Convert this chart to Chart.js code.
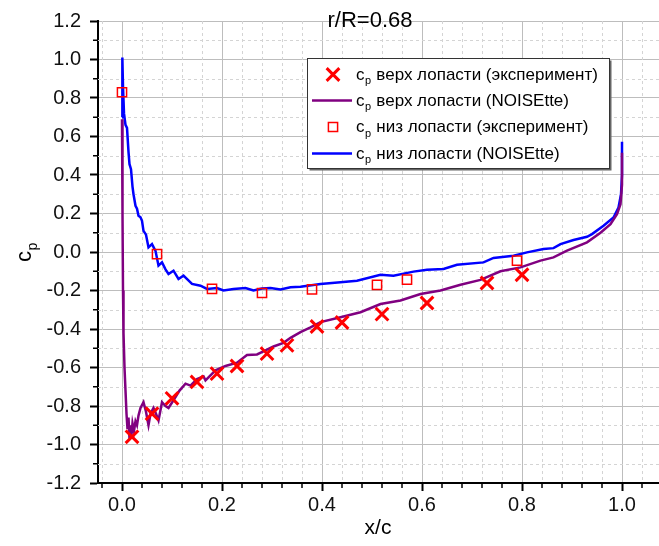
<!DOCTYPE html>
<html>
<head>
<meta charset="utf-8">
<script src="https://cdn.jsdelivr.net/npm/chart.js@4/dist/chart.umd.min.js"></script>
<style>
  html, body { margin: 0; padding: 0; background: #fff; }
  #wrap { width: 659px; height: 546px; }
</style>
</head>
<body>
<div id="wrap"><canvas id="chart" width="659" height="546"></canvas></div>
<script>
// ---- data ----
const chartTitle = 'r/R=0.68';
const xAxisTitle = 'x/c';
const seriesNames = [
  'верх лопасти (эксперимент)',
  'верх лопасти (NOISEtte)',
  'низ лопасти (эксперимент)',
  'низ лопасти (NOISEtte)'
];

const xTicks = [0.0, 0.2, 0.4, 0.6, 0.8, 1.0];
const yTicks = [-1.2, -1.0, -0.8, -0.6, -0.4, -0.2, 0.0, 0.2, 0.4, 0.6, 0.8, 1.0, 1.2];
const X_MIN = -0.048, X_MAX = 1.074;

// experiment, upper side (crosses)
const expUpperX = [0.02, 0.06, 0.10, 0.15, 0.19, 0.23, 0.29, 0.33, 0.39, 0.44, 0.52, 0.61, 0.73, 0.80];
const expUpperY = [-0.96, -0.84, -0.76, -0.675, -0.632, -0.592, -0.528, -0.485, -0.387, -0.366, -0.323, -0.265, -0.161, -0.118];

// experiment, lower side (squares)
const expLowerX = [0.0, 0.07, 0.18, 0.28, 0.38, 0.51, 0.57, 0.79];
const expLowerY = [0.83, -0.011, -0.192, -0.213, -0.194, -0.171, -0.144, -0.045];

// NOISEtte, upper side
const cfdUpperX = [0.000, 0.001, 0.002, 0.003, 0.005, 0.007, 0.009, 0.011, 0.013, 0.015, 0.017, 0.019, 0.021, 0.024,
  0.027, 0.030, 0.033, 0.037, 0.043, 0.048, 0.053, 0.057, 0.063, 0.068, 0.073, 0.080, 0.087, 0.093, 0.103, 0.115,
  0.127, 0.137, 0.150, 0.163, 0.167, 0.187, 0.207, 0.230, 0.250, 0.270, 0.287, 0.303, 0.323, 0.337, 0.357, 0.377,
  0.397, 0.437, 0.477, 0.517, 0.557, 0.597, 0.637, 0.677, 0.717, 0.757, 0.797, 0.837, 0.863, 0.890, 0.930, 0.957,
  0.977, 0.990, 0.997, 1.000, 1.000];
const cfdUpperY = [0.69, 0.20, -0.20, -0.42, -0.60, -0.72, -0.84, -0.92, -0.86, -0.97, -0.90, -0.95, -0.89, -0.93,
  -0.88, -0.90, -0.85, -0.81, -0.78, -0.83, -0.90, -0.84, -0.81, -0.84, -0.875, -0.78, -0.80, -0.81, -0.77, -0.72,
  -0.684, -0.694, -0.66, -0.646, -0.667, -0.615, -0.592, -0.575, -0.535, -0.532, -0.511, -0.491, -0.472, -0.446, -0.416, -0.392,
  -0.364, -0.339, -0.313, -0.270, -0.252, -0.218, -0.200, -0.170, -0.145, -0.100, -0.080, -0.045, -0.028, 0.007, 0.050, 0.100,
  0.145, 0.197, 0.248, 0.35, 0.516];

// NOISEtte, lower side
const cfdLowerX = [0.000, 0.0007, 0.002, 0.004, 0.007, 0.010, 0.013, 0.015, 0.018, 0.021, 0.023, 0.027, 0.030, 0.033,
  0.037, 0.040, 0.043, 0.048, 0.053, 0.060, 0.067, 0.073, 0.080, 0.087, 0.093, 0.103, 0.113, 0.123, 0.140, 0.157,
  0.170, 0.190, 0.203, 0.223, 0.247, 0.263, 0.280, 0.297, 0.317, 0.337, 0.357, 0.397, 0.437, 0.470, 0.517, 0.543,
  0.583, 0.610, 0.643, 0.670, 0.723, 0.743, 0.783, 0.810, 0.843, 0.863, 0.877, 0.903, 0.930, 0.940, 0.963, 0.983,
  0.993, 0.998, 1.000, 1.000];
const cfdLowerY = [0.70, 1.01, 0.86, 0.72, 0.66, 0.645, 0.52, 0.456, 0.43, 0.34, 0.30, 0.24, 0.225, 0.188,
  0.18, 0.162, 0.11, 0.09, 0.024, 0.041, 0.006, -0.071, -0.054, -0.09, -0.114, -0.097, -0.140, -0.123, -0.166, -0.175,
  -0.192, -0.187, -0.200, -0.192, -0.187, -0.200, -0.19, -0.187, -0.195, -0.183, -0.180, -0.166, -0.157, -0.149, -0.118, -0.123,
  -0.102, -0.092, -0.088, -0.066, -0.054, -0.031, -0.019, -0.002, 0.015, 0.020, 0.041, 0.062, 0.079, 0.093, 0.136, 0.179,
  0.231, 0.30, 0.40, 0.573];

// ---- chart ----
const RED = '#ff0000', PURPLE = '#800080', BLUE = '#0000ff';
const FONT = '"Liberation Sans", Arial, sans-serif';
const pts = (xs, ys) => xs.map((x, i) => ({ x, y: ys[i] }));

const xMinor = [];
for (let k = -1; k <= 26; k++) if (k % 5 !== 0) xMinor.push(k * 0.04);
const yMinor = [];
for (let k = -11; k <= 11; k += 2) yMinor.push(k * 0.1);

function labelWithSub(ctx, x, y, text, size) {
  ctx.font = size + 'px ' + FONT;
  ctx.fillText('c', x, y);
  const cw = ctx.measureText('c').width;
  ctx.font = Math.round(size * 0.62) + 'px ' + FONT;
  ctx.fillText('p', x + cw + 0.5, y + size * 0.28);
  const pw = ctx.measureText('p').width;
  if (text) {
    ctx.font = size + 'px ' + FONT;
    ctx.fillText(' ' + text, x + cw + pw + 1, y);
  }
}

const decor = {
  id: 'decor',
  beforeDatasetsDraw(chart) {
    const { ctx, chartArea: a, scales: { x, y } } = chart;
    ctx.save();
    ctx.strokeStyle = '#d4d4d4';
    ctx.lineWidth = 1;
    ctx.setLineDash([3, 3]);
    xMinor.forEach(v => {
      const p = Math.round(x.getPixelForValue(v)) + 0.5;
      ctx.beginPath(); ctx.moveTo(p, a.top); ctx.lineTo(p, a.bottom); ctx.stroke();
    });
    yMinor.forEach(v => {
      const p = Math.round(y.getPixelForValue(v)) + 0.5;
      ctx.beginPath(); ctx.moveTo(a.left, p); ctx.lineTo(a.right, p); ctx.stroke();
    });
    ctx.setLineDash([]);
    ctx.strokeStyle = '#000';
    ctx.lineWidth = 1.5;
    xMinor.forEach(v => {
      const p = x.getPixelForValue(v);
      ctx.beginPath(); ctx.moveTo(p, a.bottom); ctx.lineTo(p, a.bottom + 5); ctx.stroke();
    });
    yMinor.forEach(v => {
      const p = y.getPixelForValue(v);
      ctx.beginPath(); ctx.moveTo(a.left - 5, p); ctx.lineTo(a.left, p); ctx.stroke();
    });
    ctx.restore();
  },
  afterDraw(chart) {
    const { ctx } = chart;
    ctx.save();
    ctx.fillStyle = '#000';
    ctx.textBaseline = 'alphabetic';
    // title
    ctx.font = '22px ' + FONT;
    ctx.textAlign = 'center';
    ctx.fillText(chartTitle, 370, 27);
    // x axis title
    ctx.font = '21px ' + FONT;
    ctx.fillText(xAxisTitle, 378, 534);
    // y axis title c_p
    ctx.save();
    ctx.translate(31, 262);
    ctx.rotate(-Math.PI / 2);
    ctx.textAlign = 'left';
    labelWithSub(ctx, 0, 0, '', 22);
    ctx.restore();

    // legend box
    const L = 307.5, T = 58.5, W = 302, H = 110;
    ctx.fillStyle = '#666';
    ctx.fillRect(L + 2, T + 2, W, H);
    ctx.fillStyle = '#fff';
    ctx.fillRect(L, T, W, H);
    ctx.strokeStyle = '#333';
    ctx.lineWidth = 1;
    ctx.strokeRect(L, T, W, H);

    const rows = [74.5, 100.5, 127, 153.5];
    const mx = 333;
    chart.data.datasets.forEach((ds, i) => {
      const ry = rows[i];
      ctx.save();
      if (ds.showLine) {
        ctx.strokeStyle = ds.borderColor;
        ctx.lineWidth = ds.borderWidth;
        ctx.beginPath(); ctx.moveTo(312, ry); ctx.lineTo(352, ry); ctx.stroke();
      } else {
        ctx.strokeStyle = ds.pointBorderColor;
        ctx.fillStyle = ds.pointBackgroundColor;
        ctx.lineWidth = ds.pointBorderWidth;
        Chart.helpers.drawPoint(ctx, {
          pointStyle: ds.pointStyle, radius: ds.pointRadius, borderWidth: ds.pointBorderWidth
        }, mx, ry);
      }
      ctx.restore();
      ctx.fillStyle = '#000';
      ctx.textAlign = 'left';
      labelWithSub(ctx, 356, ry + 5, ds.label, 17);
    });
    ctx.restore();
  }
};

new Chart(document.getElementById('chart'), {
  type: 'scatter',
  data: {
    datasets: [
      {
        label: seriesNames[0], data: pts(expUpperX, expUpperY), order: 1,
        pointStyle: 'crossRot', pointRadius: 9, pointHoverRadius: 9,
        pointBorderColor: RED, pointBackgroundColor: RED, pointBorderWidth: 3, borderColor: RED,
        showLine: false
      },
      {
        label: seriesNames[1], data: pts(cfdUpperX, cfdUpperY), order: 3,
        showLine: true, borderColor: PURPLE, borderWidth: 2.5, pointRadius: 0, tension: 0
      },
      {
        label: seriesNames[2], data: pts(expLowerX, expLowerY), order: 2,
        pointStyle: 'rect', pointRadius: 6.5, pointHoverRadius: 6.5,
        pointBorderColor: RED, pointBackgroundColor: 'rgba(0,0,0,0)', pointBorderWidth: 1.5, borderColor: RED,
        showLine: false
      },
      {
        label: seriesNames[3], data: pts(cfdLowerX, cfdLowerY), order: 4,
        showLine: true, borderColor: BLUE, borderWidth: 2.5, pointRadius: 0, tension: 0
      }
    ]
  },
  options: {
    responsive: false,
    animation: false,
    events: [],
    layout: { autoPadding: false, padding: { top: 19.5, right: 0, left: 0, bottom: 0 } },
    plugins: { legend: { display: false }, tooltip: { enabled: false } },
    scales: {
      x: {
        type: 'linear', min: X_MIN, max: X_MAX,
        afterBuildTicks: s => { s.ticks = xTicks.map(v => ({ value: v })); },
        afterFit: s => { s.height = 63; },
        ticks: { color: '#111', font: { family: FONT, size: 20 }, padding: 2, maxRotation: 0, autoSkip: false,
                 callback: v => v.toFixed(1) },
        grid: { color: '#bdbdbd', lineWidth: 1, tickColor: '#000', tickWidth: 2, tickLength: 8 },
        border: { color: '#000', width: 2 }
      },
      y: {
        type: 'linear', min: -1.2, max: 1.2,
        afterBuildTicks: s => { s.ticks = yTicks.map(v => ({ value: v })); },
        afterFit: s => { s.width = 98; },
        ticks: { color: '#111', font: { family: FONT, size: 20 }, padding: 9, autoSkip: false,
                 callback: v => v.toFixed(1) },
        grid: { color: '#bdbdbd', lineWidth: 1, tickColor: '#000', tickWidth: 2, tickLength: 8 },
        border: { color: '#000', width: 2 }
      }
    }
  },
  plugins: [decor]
});
</script>
</body>
</html>
